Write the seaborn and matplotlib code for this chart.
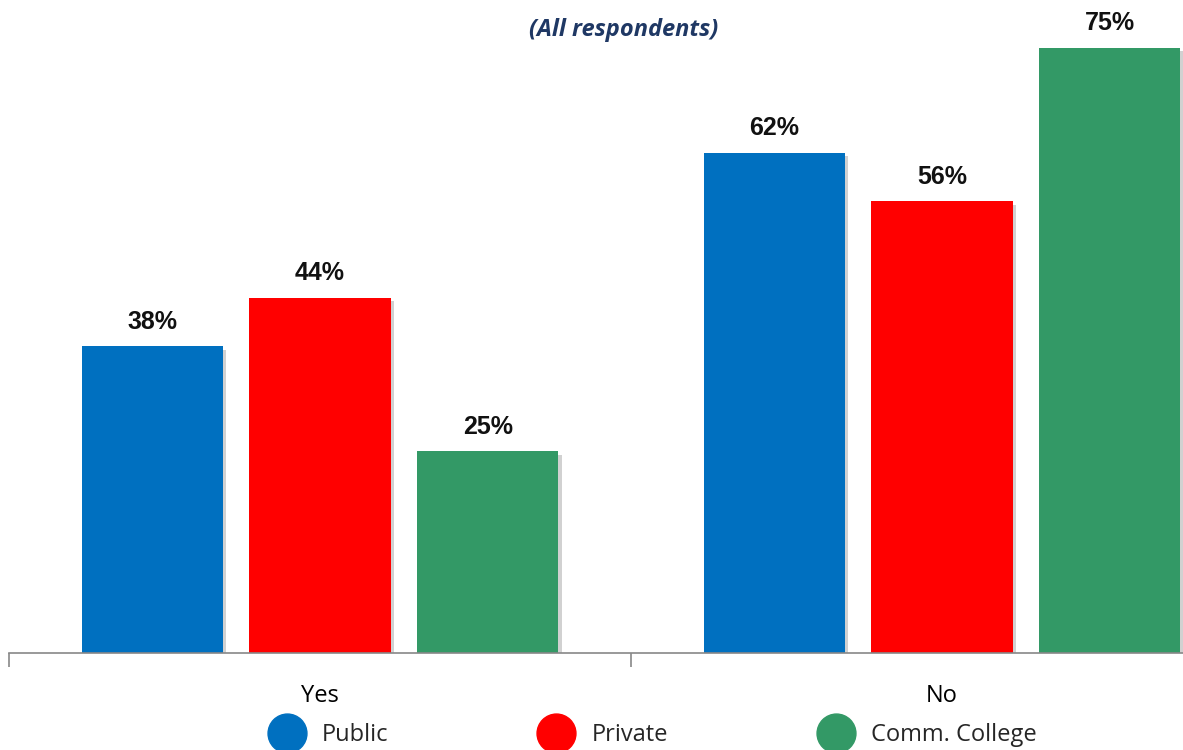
import matplotlib
matplotlib.use("Agg")
import matplotlib.pyplot as plt
import matplotlib.patheffects as pe
from matplotlib.lines import Line2D
import seaborn as sns
import pandas as pd

categories = ["Yes", "No"]
groups = ["Public", "Private", "Comm. College"]
public = [38, 62]
private = [44, 56]
comm_college = [25, 75]
colors = ["#0070C0", "#FF0000", "#339966"]
title = "(All respondents)"

rows = []
for g, vals in zip(groups, [public, private, comm_college]):
    for c, v in zip(categories, vals):
        rows.append({"Answer": c, "Type": g, "Value": v})
df = pd.DataFrame(rows)

sns.set_theme(style="white")
label_font = ["Liberation Sans Narrow", "Liberation Sans", "DejaVu Sans"]
text_font = ["Open Sans", "DejaVu Sans"]

fig = plt.figure(figsize=(11.83, 7.5), dpi=100)
W, H = 1183, 750
ax = fig.add_axes([9 / W, (H - 653) / H, (W - 9) / W, 653 / H])

sns.barplot(data=df, x="Answer", y="Value", hue="Type", order=categories,
            hue_order=groups, palette=colors, width=0.81, gap=0.16,
            saturation=1, legend=False, ax=ax, linewidth=0)

for p in ax.patches:
    p.set_path_effects([pe.SimplePatchShadow(offset=(2.5, -2.5), shadow_rgbFace="#000000", alpha=0.18), pe.Normal()])

for cont in ax.containers:
    ax.bar_label(cont, labels=[f"{int(v)}%" for v in cont.datavalues], padding=9,
                 fontsize=18, fontweight="bold", family=label_font, color="#111111")

ax.set_xlabel("")
ax.set_ylabel("")
ax.set_yticks([])
for s in ["left", "right", "top"]:
    ax.spines[s].set_visible(False)
ax.spines["bottom"].set_color("#888888")
ax.spines["bottom"].set_linewidth(1.2)
ax.set_xticks([0, 1])
ax.set_xticklabels(categories, fontsize=17, family=text_font, color="#000000")
ax.tick_params(axis="x", which="major", length=0, pad=22)
ax.set_xticks([-0.5, 0.5, 1.5], minor=True)
ax.tick_params(axis="x", which="minor", length=10, color="#888888", width=1.2, bottom=True)
ax.set_xlim(-0.5, -0.5 + (W - 9) / 622)
ax.set_ylim(0, 653 / 8.07)

fig.text(624 / W, 1 - 30 / H, title, ha="center", va="center", fontsize=17,
         fontweight="bold", fontstyle="italic", color="#1F3864", family=text_font)

handles = [Line2D([0], [0], marker="o", linestyle="", markersize=28,
                  markerfacecolor=c, markeredgecolor=c) for c in colors]
fig.legend(handles, groups, loc="center", bbox_to_anchor=(0.5535, 1 - 735 / H), ncol=3,
           frameon=False, prop={"family": text_font, "size": 17},
           handletextpad=0.9, columnspacing=6.5, handlelength=1.2, borderaxespad=0)

fig.savefig("out.png", dpi=100)
